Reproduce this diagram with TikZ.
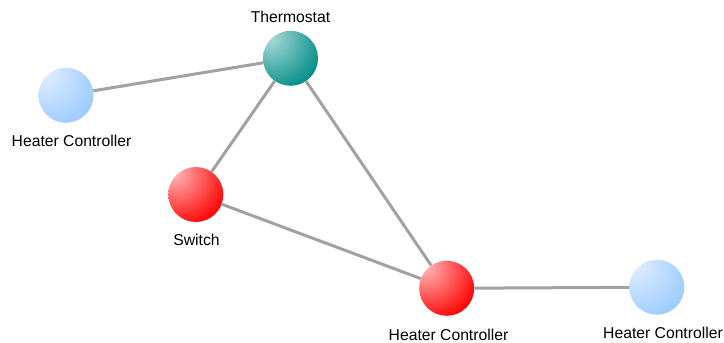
\documentclass[tikz,border=0pt]{standalone}
\usepackage{fontspec}
\setmainfont{Liberation Sans}
\definecolor{edgegray}{RGB}{162,162,162}
\pgfdeclareradialshading{tealball}{\pgfpoint{-22bp}{22bp}}{color(0bp)=(rgb,255:red,185;green,225;blue,222); color(43bp)=(rgb,255:red,0;green,140;blue,136); color(100bp)=(rgb,255:red,0;green,140;blue,136)}
\pgfdeclareradialshading{redball}{\pgfpoint{-22bp}{22bp}}{color(0bp)=(rgb,255:red,255;green,195;blue,195); color(43bp)=(rgb,255:red,255;green,0;blue,0); color(100bp)=(rgb,255:red,255;green,0;blue,0)}
\pgfdeclareradialshading{blueball}{\pgfpoint{-22bp}{22bp}}{color(0bp)=(rgb,255:red,228;green,239;blue,255); color(43bp)=(rgb,255:red,155;green,203;blue,255); color(100bp)=(rgb,255:red,155;green,203;blue,255)}
\begin{document}
\begin{tikzpicture}[x=1pt,y=-1pt,
  ball/.style={circle,minimum size=55pt,inner sep=0pt},
  tball/.style={ball,shading=tealball},
  rball/.style={ball,shading=redball},
  bball/.style={ball,shading=blueball},
  lbl/.style={anchor=base,font=\fontsize{15.7}{18}\selectfont,inner sep=0pt},
  edge/.style={draw=edgegray,line width=3pt}]
\useasboundingbox (0,0) rectangle (724,343);
\node[tball] (thermo) at (290.5,58.3) {};
\node[bball] (hcl) at (66,95.3) {};
\node[rball] (sw) at (195.8,194.5) {};
\node[rball] (hcb) at (446.7,288.3) {};
\node[bball] (hcr) at (656.8,287.2) {};
\node[lbl] (thermoL) at (290.5,22.5) {Thermostat};
\node[lbl] (hclL) at (71.5,146.5) {Heater Controller};
\node[lbl] (swL) at (196.5,245.5) {Switch};
\node[lbl] (hcbL) at (448.5,340) {Heater Controller};
\node[lbl] (hcrL) at (663,338) {Heater Controller};
\draw[edge] (thermo) -- (hcl);
\draw[edge] (thermo) -- (sw);
\draw[edge] (thermo) -- (hcb);
\draw[edge] (sw) -- (hcb);
\draw[edge] (hcb) -- (hcr);
\end{tikzpicture}
\end{document}
